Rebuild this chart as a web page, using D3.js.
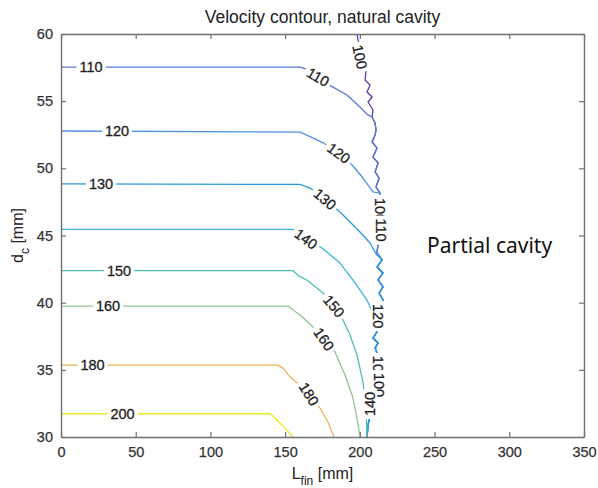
<!DOCTYPE html>
<html>
<head>
<meta charset="utf-8">
<script src="https://cdn.jsdelivr.net/npm/d3@7"></script>
<style>
  body { margin: 0; background: #fff; }
  text { font-family: "Liberation Sans", Arial, Helvetica, sans-serif; }
</style>
</head>
<body>
<svg id="chart" width="598" height="488"></svg>
<script>
// contour levels (velocity)
var levels = [100, 110, 120, 130, 140, 150, 160, 180, 200];
var xTicks = [0, 50, 100, 150, 200, 250, 300, 350];
var yTicks = [30, 35, 40, 45, 50, 55, 60];

// wiggly cavity edge as [L_fin, d_c]
var edge = [[198.1,60],[198.8,59.55],[200.1,59.03],[201.5,58.44],[202.1,57.92],[204.2,57.32],
  [203.5,56.58],[206.8,56.2],[204.8,55.68],[208.2,55.31],[205.5,54.94],[208.8,54.34],[208.2,53.82],
  [210.2,53.37],[210.8,52.85],[210.2,52.48],[208.2,51.96],[211.5,51.51],[208.8,50.84],[212.2,50.4],
  [210.2,49.73],[212.9,49.28],[210.8,48.61],[213.5,48.16],[212.2,47.49],[213.5,46.9],[212.9,46.15],
  [214.2,45.41],[212.2,44.44],[211.5,43.7],[214.9,43.18],[211.5,42.65],[215.5,42.21],[212.2,41.69],
  [215.5,41.17],[212.9,40.72],[215.5,40.2],[213.5,39.68],[212.9,39.08],[212.2,38.34],[211.5,37.82],
  [208.8,37.37],[212.2,37.0],[210.2,36.62],[211.5,36.25],[210.2,35.73],[212.2,35.14],[210.8,34.54],
  [211.5,33.87],[209.5,33.27],[210.2,32.75],[208.2,32.16],[206.8,31.64],[205.5,30.89],[204.8,30]];

// the part of each level before it runs into the edge
var line110 = [[0,57.54],[160,57.54],[163.5,57.4],[168,57.0],[176,56.4],[182,56.05],[191.4,55.46],[200.1,54.56],[205,54.0]];
var line120 = [[0,52.78],[160,52.7],[166,52.4],[175.4,51.9],[186,51.14],[194.8,50.25],[202.1,49.28],[208.8,48.24]];
var line130 = [[0,48.85],[160,48.8],[166.7,48.53],[176.7,47.71],[186.7,46.75],[192.1,46.15],[200.1,45.26],[206.8,44.44],[211,43.6]];
var line140 = [[0,45.46],[155.3,45.46],[158,45.3],[164,44.74],[174.7,44.07],[186.7,42.95],[195.4,41.68],[204.8,40.19],[209.5,39.0]];
var line150 = [[0,42.38],[155.3,42.38],[159,42.0],[165,41.65],[175.4,40.72],[182.7,39.75],[188.1,38.86],[193.4,37.59],[198.1,36.1],[202.1,34.09],[204.2,32.16],[204.8,30]];
var line160 = [[0,39.75],[151.9,39.75],[156,39.4],[160,39.08],[168,38.26],[176,37.29],[183.4,36.33],[190.1,34.61],[195.4,32.9],[198.1,31.41],[200.1,30]];
var line180 = [[0,35.35],[145.3,35.35],[148.6,35.13],[153.3,34.46],[158,34.04],[166,33.2],[173.4,32.15],[178.7,31.1],[182.7,30]];
var line200 = [[0,31.73],[140.2,31.73],[147.9,30.9],[155.3,30]];

// inline labels: [level, L_fin, d_c, angle]
var labels = [
  [110, 20.1, 57.54, 0], [120, 37.5, 52.78, 0], [130, 26.8, 48.85, 0], [150, 38.8, 42.38, 0],
  [160, 31.5, 39.75, 0], [180, 21.1, 35.35, 0], [200, 41.2, 31.73, 0],
  [110, 172, 56.8, 30], [120, 186, 51.14, 36], [130, 176.7, 47.71, 40], [140, 164, 44.74, 36],
  [150, 182.7, 39.75, 50], [160, 176, 37.29, 55], [180, 166, 33.2, 58],
  [100, 200.1, 58.29, 78], [100, 213.5, 46.9, 90], [110, 214.2, 45.4, 90], [120, 212.2, 39.0, 90],
  [100, 212.2, 35.14, 90], [100, 212.9, 33.87, 90], [140, 206.8, 32.46, -90]
];

var colors = {100: "#4b45b2", 110: "#5a78d6", 120: "#4f92e2", 130: "#2a9ade", 140: "#3db6dc",
  150: "#4fbfb2", 160: "#91c58e", 180: "#efb452", 200: "#eaea1e"};

var lines = {100: edge, 110: line110, 120: line120, 130: line130, 140: line140,
  150: line150, 160: line160, 180: line180, 200: line200};
var joinsEdge = [110, 120, 130, 140];
var drawOrder = [100, 110, 120, 140, 130, 150, 160, 180, 200];

var width = 598, height = 488;
var margin = {top: 34, right: 14, bottom: 51, left: 61};

var svg = d3.select("#chart");

var x = d3.scaleLinear().domain([0, 350]).range([margin.left, width - margin.right]);
var y = d3.scaleLinear().domain([30, 60]).range([height - margin.bottom, margin.top]);

var path = d3.line().x(function(d) { return x(d[0]); }).y(function(d) { return y(d[1]); });

var plot = svg.append("g");

drawOrder.forEach(function(lv) {
  var pts = lines[lv];
  if (joinsEdge.indexOf(lv) >= 0) {
    var lastY = pts[pts.length - 1][1];
    pts = pts.concat(edge.filter(function(p) { return p[1] < lastY; }));
  }
  plot.append("path")
    .attr("d", path(pts))
    .attr("fill", "none")
    .attr("stroke", colors[lv])
    .attr("stroke-width", 1.3)
    .attr("stroke-linejoin", "round");
});

// labels punch a white gap in the line like clabel does
labels.forEach(function(l) {
  var g = plot.append("g")
    .attr("transform", "translate(" + x(l[1]) + "," + y(l[2]) + ") rotate(" + l[3] + ")");
  var rect = g.append("rect").attr("fill", "#fff");
  var t = g.append("text")
    .attr("text-anchor", "middle")
    .attr("dy", "0.36em")
    .style("font-size", "14.5px")
    .attr("fill", "#1c1c1c")
    .attr("stroke", "#1c1c1c")
    .attr("stroke-width", 0.3)
    .text(l[0]);
  var bb = t.node().getBBox();
  rect.attr("x", bb.x - 3).attr("y", bb.y + 1).attr("width", bb.width + 6).attr("height", bb.height - 2);
});

// box with inward ticks
var axisColor = "#707070";
function styleAxis(g, showText) {
  g.select(".domain").attr("stroke", axisColor).attr("stroke-width", 1.4);
  g.selectAll(".tick line").attr("stroke", axisColor).attr("stroke-width", 1.2);
  g.selectAll(".tick text").attr("fill", "#333").attr("stroke", "#333").attr("stroke-width", 0.25)
    .style("font-size", "14.5px")
    .style("font-family", "'Liberation Sans', Arial, sans-serif");
  if (!showText) g.selectAll(".tick text").remove();
}

var gx = svg.append("g").attr("transform", "translate(0," + y(30) + ")")
  .call(d3.axisBottom(x).tickValues(xTicks).tickSizeInner(-5).tickSizeOuter(0).tickPadding(10));
styleAxis(gx, true);
var gxt = svg.append("g").attr("transform", "translate(0," + y(60) + ")")
  .call(d3.axisTop(x).tickValues(xTicks).tickSizeInner(-5).tickSizeOuter(0));
styleAxis(gxt, false);
var gy = svg.append("g").attr("transform", "translate(" + x(0) + ",0)")
  .call(d3.axisLeft(y).tickValues(yTicks).tickSizeInner(-5).tickSizeOuter(0).tickPadding(8));
styleAxis(gy, true);
var gyr = svg.append("g").attr("transform", "translate(" + x(350) + ",0)")
  .call(d3.axisRight(y).tickValues(yTicks).tickSizeInner(-5).tickSizeOuter(0));
styleAxis(gyr, false);

// title
svg.append("text")
  .attr("x", (x(0) + x(350)) / 2)
  .attr("y", 23)
  .attr("text-anchor", "middle")
  .style("font-size", "17.5px")
  .attr("fill", "#222")
  .text("Velocity contour, natural cavity");

// axis labels with subscripts
var xl = svg.append("text")
  .attr("x", (x(0) + x(350)) / 2)
  .attr("y", 479)
  .attr("text-anchor", "middle")
  .style("font-size", "16px")
  .attr("fill", "#222");
xl.append("tspan").text("L");
xl.append("tspan").attr("dy", 6).style("font-size", "12px").text("fin");
xl.append("tspan").attr("dy", -6).text(" [mm]");

var yl = svg.append("text")
  .attr("transform", "translate(23," + (y(30) + y(60)) / 2 + ") rotate(-90)")
  .attr("text-anchor", "middle")
  .style("font-size", "16px")
  .attr("fill", "#222");
yl.append("tspan").text("d");
yl.append("tspan").attr("dy", 6).style("font-size", "12px").text("c");
yl.append("tspan").attr("dy", -6).text(" [mm]");

// annotation
svg.append("text")
  .attr("x", x(245))
  .attr("y", 253)
  .style("font-family", "'Noto Sans', sans-serif")
  .style("font-size", "21px")
  .attr("fill", "#111")
  .text("Partial cavity");
</script>
</body>
</html>
